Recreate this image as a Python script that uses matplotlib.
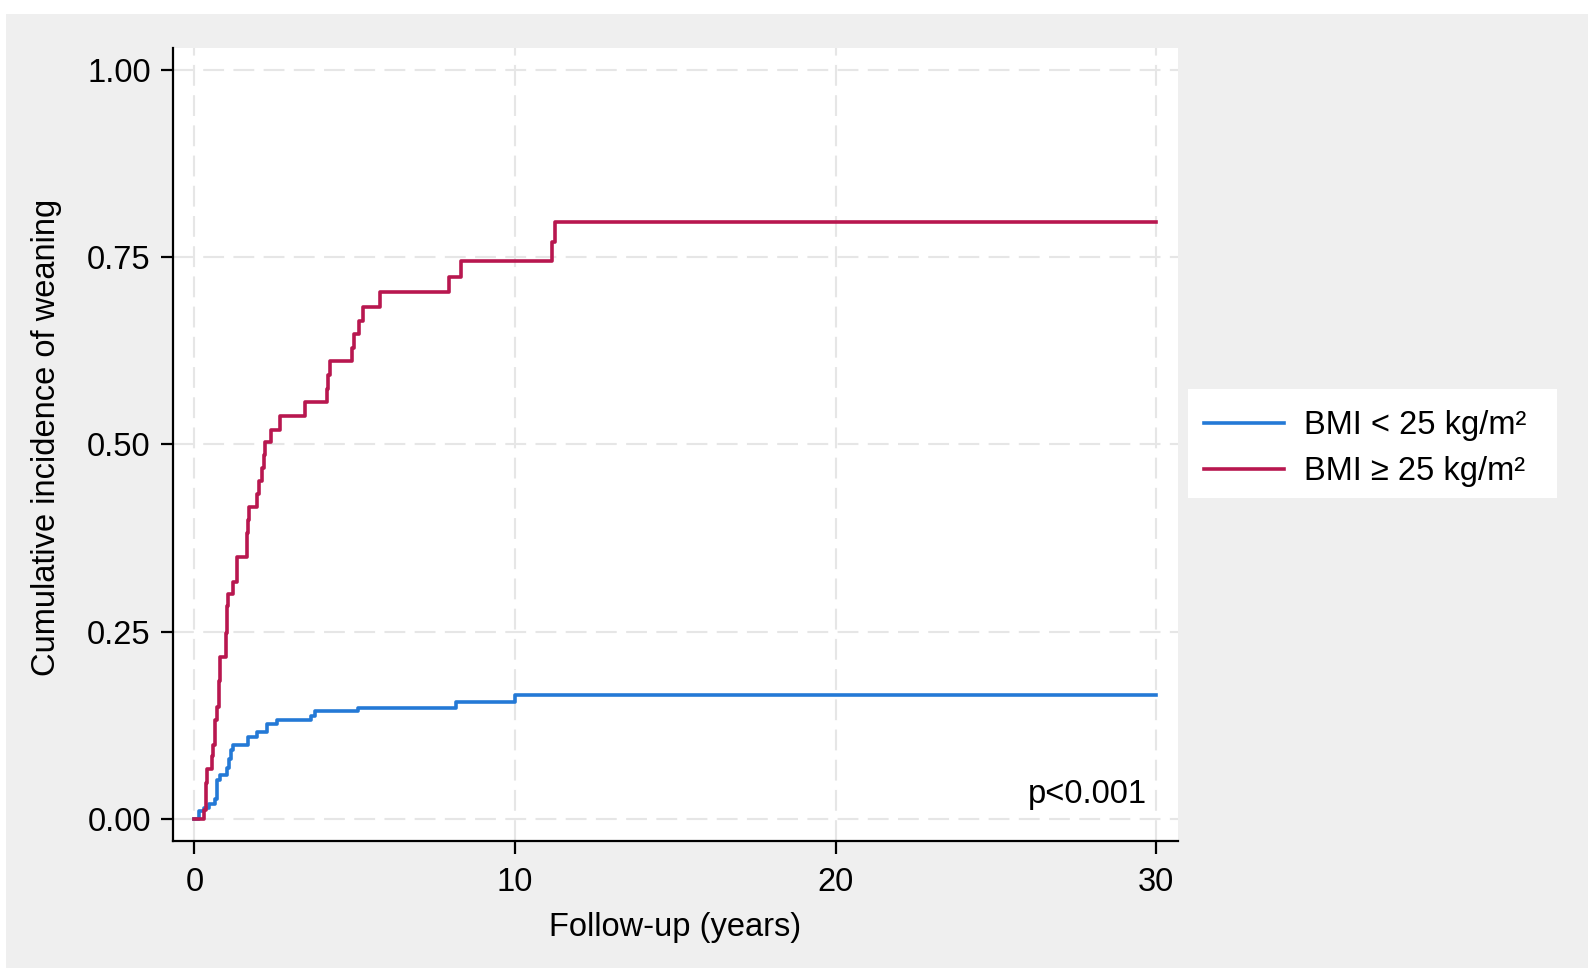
import matplotlib
matplotlib.use("Agg")
import matplotlib.pyplot as plt
from matplotlib.patches import Rectangle

# cumulative incidence of weaning
blue_t = [0, 0.15, 0.30, 0.46, 0.64, 0.71, 0.80, 1.00, 1.08, 1.13, 1.19, 1.68, 1.96,
          2.27, 2.56, 3.65, 3.76, 5.11, 8.16, 10.0, 30]
blue_y = [0, 0.011, 0.015, 0.021, 0.027, 0.052, 0.059, 0.068, 0.081, 0.092, 0.099, 0.110,
          0.116, 0.127, 0.133, 0.138, 0.144, 0.149, 0.157, 0.166, 0.166]

red_t = [0, 0.31, 0.35, 0.38, 0.54, 0.59, 0.64, 0.69, 0.77, 0.80, 0.97, 1.00, 1.05,
         1.19, 1.34, 1.65, 1.68, 1.70, 1.94, 2.02, 2.10, 2.17, 2.21, 2.39, 2.67, 3.46,
         4.12, 4.15, 4.23, 4.90, 4.99, 5.13, 5.25, 5.79, 7.93, 8.31, 11.14, 11.25, 30]
red_y = [0, 0.012, 0.049, 0.067, 0.084, 0.099, 0.133, 0.150, 0.184, 0.217, 0.248, 0.284,
         0.300, 0.317, 0.350, 0.382, 0.399, 0.417, 0.434, 0.451, 0.468, 0.486, 0.503,
         0.520, 0.538, 0.557, 0.574, 0.593, 0.611, 0.629, 0.647, 0.665, 0.684, 0.704,
         0.723, 0.745, 0.770, 0.797, 0.797]

labels = ["BMI < 25 kg/m²", "BMI ≥ 25 kg/m²"]
x_ticks = [0, 10, 20, 30]
y_ticks = [0, 0.25, 0.5, 0.75, 1.0]

FS = 23.5
plt.rcParams["font.family"] = ["Liberation Sans", "DejaVu Sans"]
plt.rcParams["font.size"] = FS

W, H = 1595, 974
fig = plt.figure(figsize=(W / 100, H / 100), dpi=100, facecolor="white")

# grey graph region and white legend box
fig.patches.append(Rectangle((6 / W, 6 / H), 1582 / W, 954 / H, transform=fig.transFigure,
                             facecolor="#efefef", edgecolor="none", zorder=-10))
fig.patches.append(Rectangle((1188 / W, 1 - 498 / H), 369 / W, 109 / H,
                             transform=fig.transFigure, facecolor="white",
                             edgecolor="none", zorder=-5))

ax = fig.add_axes([173 / W, 133 / H, 1005 / W, 793 / H])
ax.set_facecolor("white")

grid_kw = dict(color="#e6e6e6", lw=1.5, dashes=(10, 4.5), zorder=0)
for xv in x_ticks:
    ax.axvline(xv, **grid_kw)
for yv in y_ticks:
    ax.axhline(yv, **grid_kw)

ax.plot(blue_t, blue_y, drawstyle="steps-post", color="#2479d6", lw=2.6, label=labels[0])
ax.plot(red_t, red_y, drawstyle="steps-post", color="#b8174f", lw=2.6, label=labels[1])

ax.set_xlim(-0.67, 30.68)
ax.set_ylim(-0.029, 1.029)
ax.set_xticks(x_ticks)
ax.set_yticks(y_ticks)
ax.set_yticklabels([f"{v:.2f}" for v in y_ticks])

for side in ["top", "right"]:
    ax.spines[side].set_visible(False)
for side in ["left", "bottom"]:
    ax.spines[side].set_linewidth(1.6)
    ax.spines[side].set_color("black")
ax.tick_params(axis="both", length=9, width=1.6, colors="black", labelsize=FS)
ax.tick_params(axis="y", pad=7)
ax.tick_params(axis="x", pad=10)

ax.text(29.71, 0.022, "p<0.001", ha="right", va="baseline", fontsize=FS)

fig.text(47 / W, 1 - 437 / H, "Cumulative incidence of weaning", rotation=90,
         ha="center", va="center", fontsize=FS)
fig.text(675 / W, 38 / H, "Follow-up (years)", ha="center", va="baseline", fontsize=FS)

leg = fig.legend(loc="upper left", bbox_to_anchor=(1188 / W, 1 - 394 / H), borderaxespad=0,
                 frameon=False, handlelength=2.45, handletextpad=0.6, borderpad=0.5,
                 labelspacing=0.45, fontsize=FS)
for line in leg.get_lines():
    line.set_linewidth(2.6)

fig.savefig("out.png", dpi=100, facecolor="white")
